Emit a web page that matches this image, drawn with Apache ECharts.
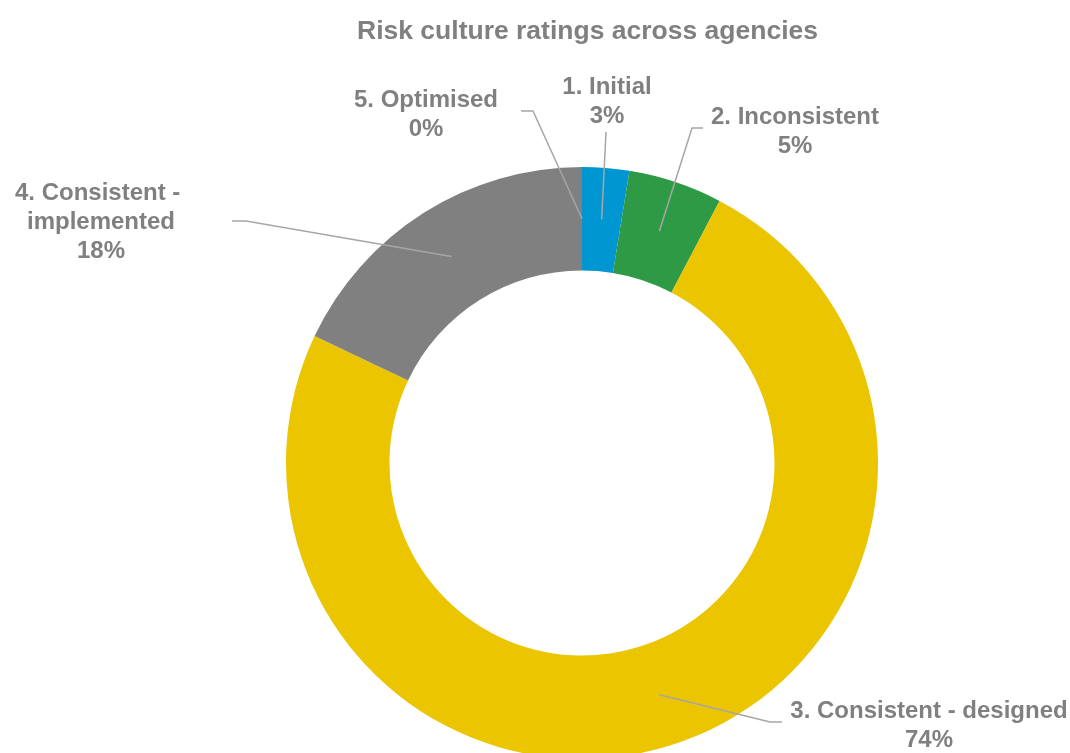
<!DOCTYPE html>
<html>
<head>
<meta charset="utf-8">
<title>Risk culture ratings across agencies</title>
<script src="https://cdn.jsdelivr.net/npm/echarts@6/dist/echarts.min.js"></script>
<style>
  html, body { margin: 0; padding: 0; background: #ffffff; }
  #chart { width: 1070px; height: 753px; }
</style>
</head>
<body>
<div id="chart"></div>
<script>
// Rating levels and number of agencies at each level
const categories = [
  '1. Initial',
  '2. Inconsistent',
  '3. Consistent - designed',
  '4. Consistent - implemented',
  '5. Optimised'
];
const agencyCounts = [1, 2, 29, 7, 0];
const sliceColors = ['#0096D2', '#2E9A45', '#EAC500', '#808080', '#5B9BD5'];

// Ring geometry (pixels)
const CENTER = [582, 463];
const INNER_R = 192.5;
const OUTER_R = 296;

// Label placement: label block centre and the elbow of each leader line
const labelPlacement = [
  { x: 607, y: 102, elbow: [[606, 132], [606, 132]] },
  { x: 795, y: 132, elbow: [[692, 128], [703, 128]] },
  { x: 929, y: 726, elbow: [[770, 722], [782, 722]] },
  { x: 101, y: 222, elbow: [[246, 221], [232, 221]] },
  { x: 426, y: 115, elbow: [[533, 111], [521, 111]] }
];

const total = agencyCounts.reduce((a, b) => a + b, 0);
const FONT = '"Liberation Sans", Arial, sans-serif';

// Leader lines start at the middle of the ring, at each slice's mid angle
function spokeStart(i) {
  let before = 0;
  for (let k = 0; k < i; k++) before += agencyCounts[k];
  const mid = (before + agencyCounts[i] / 2) / total;
  const theta = mid * Math.PI * 2;
  const r = (INNER_R + OUTER_R) / 2;
  return [CENTER[0] + r * Math.sin(theta), CENTER[1] - r * Math.cos(theta)];
}

const pieData = categories.map((name, i) => ({ name: name, value: agencyCounts[i] }));

const ringBase = {
  type: 'pie',
  center: CENTER,
  radius: [INNER_R, OUTER_R],
  startAngle: 90,
  clockwise: true,
  avoidLabelOverlap: false,
  percentPrecision: 0,
  silent: true,
  emphasis: { disabled: true }
};

const chart = echarts.init(document.getElementById('chart'), null, { renderer: 'canvas' });

chart.setOption({
  backgroundColor: '#ffffff',
  animation: false,
  title: {
    text: 'Risk culture ratings across agencies',
    left: 352,
    top: 13,
    textStyle: {
      color: '#808080',
      fontFamily: FONT,
      fontWeight: 'bold',
      fontSize: 26.5
    }
  },
  series: [
    // The coloured ring
    Object.assign({}, ringBase, {
      z: 2,
      color: sliceColors,
      itemStyle: { borderWidth: 0 },
      label: { show: false },
      labelLine: { show: false },
      data: pieData
    }),
    // Labels and leader lines, drawn on top of the ring
    Object.assign({}, ringBase, {
      z: 5,
      itemStyle: { color: 'rgba(0,0,0,0)', borderWidth: 0 },
      label: {
        show: true,
        position: 'outside',
        formatter: '{b}\n{d}%',
        color: '#808080',
        fontFamily: FONT,
        fontWeight: 'bold',
        fontSize: 24,
        lineHeight: 29,
        width: 300,
        overflow: 'break',
        align: 'center'
      },
      labelLine: {
        show: true,
        smooth: false,
        lineStyle: { color: '#A6A6A6', width: 1.5 }
      },
      labelLayout: function (p) {
        const i = p.dataIndex;
        const place = labelPlacement[i];
        return {
          x: place.x,
          y: place.y,
          align: 'center',
          verticalAlign: 'middle',
          labelLinePoints: [spokeStart(i), place.elbow[0], place.elbow[1]]
        };
      },
      data: pieData
    })
  ]
});
</script>
</body>
</html>
